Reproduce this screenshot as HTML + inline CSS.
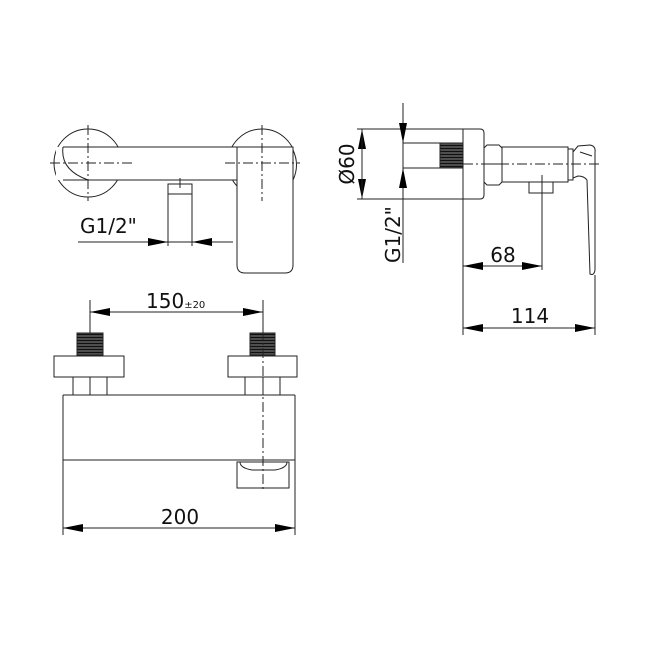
<!DOCTYPE html>
<html><head><style>html,body{margin:0;padding:0;background:#fff}svg{display:block}</style></head>
<body>
<svg width="650" height="650" viewBox="0 0 650 650" xmlns="http://www.w3.org/2000/svg" font-family="DejaVu Sans, sans-serif">
<defs>
<marker id="a" viewBox="0 0 10 4" refX="10" refY="2" markerWidth="20" markerHeight="8" markerUnits="userSpaceOnUse" orient="auto"><path d="M0,0 L10,2 L0,4 z" fill="#000"/></marker>
<pattern id="th" width="4" height="3" patternUnits="userSpaceOnUse"><rect width="4" height="3" fill="#555"/><line x1="0" y1="1.5" x2="4" y2="1.5" stroke="#111" stroke-width="1.2"/></pattern>
</defs>
<g fill="none" stroke="#222" stroke-width="1">
<circle cx="88" cy="163" r="34"/>
<circle cx="262" cy="163" r="34"/>
<rect x="56" y="147" width="240" height="33" fill="#fff" stroke="none"/>
<path d="M63,147 L237,147 M63,180 L237,180 M63,147 Q60,170 88,180"/>
<path d="M237,147 L293,147 L293,265 Q293,273 285,273 L245,273 Q237,273 237,265 Z" fill="#fff"/>
<path d="M293,150 Q300,165 293,180"/>
<line x1="50" y1="163" x2="133" y2="163" stroke-dasharray="10,3,2,3"/>
<line x1="225" y1="163" x2="300" y2="163" stroke-dasharray="10,3,2,3"/>
<line x1="88" y1="125" x2="88" y2="201" stroke-dasharray="10,3,2,3"/>
<line x1="262" y1="125" x2="262" y2="201" stroke-dasharray="10,3,2,3"/>
<rect x="168" y="184" width="24" height="10"/>
<line x1="168" y1="194" x2="168" y2="246"/>
<line x1="192" y1="194" x2="192" y2="246"/>
<line x1="180" y1="178" x2="180" y2="188"/>
<line x1="78" y1="242" x2="233" y2="242"/>
<line x1="145" y1="242" x2="168" y2="242" marker-end="url(#a)"/>
<line x1="214" y1="242" x2="192" y2="242" marker-end="url(#a)"/>

<path d="M357,129 L480,129 Q484,129 484,133 L484,195 Q484,199 480,199 L357,199"/>
<line x1="463" y1="129" x2="463" y2="335"/>
<rect x="440" y="143" width="23" height="25" fill="url(#th)"/>
<line x1="403" y1="143" x2="440" y2="143"/>
<line x1="403" y1="168" x2="440" y2="168"/>
<line x1="403" y1="103" x2="403" y2="263"/>
<line x1="403" y1="103" x2="403" y2="143" marker-end="url(#a)"/>
<line x1="403" y1="208" x2="403" y2="168" marker-end="url(#a)"/>
<line x1="362" y1="146" x2="362" y2="129" marker-end="url(#a)"/>
<line x1="362" y1="182" x2="362" y2="199" marker-end="url(#a)"/>
<line x1="362" y1="129" x2="362" y2="199"/>
<path d="M484,148 L487,145 L499,145 L502,148 L502,182 L499,185 L487,185 L484,182 Z"/>
<line x1="484" y1="164" x2="502" y2="164"/>
<rect x="502" y="147" width="66" height="35"/>
<rect x="568" y="149" width="5" height="31"/>
<path d="M573,152 L578,146 L590,145 Q596,146 595,152 L595,270 Q594,276 590,274 L587,180 Q584,176 578,176 L573,178 Z"/>
<line x1="580" y1="152" x2="592" y2="156"/>
<rect x="529" y="182" width="24" height="11"/>
<line x1="463" y1="164" x2="600" y2="164" stroke-dasharray="10,3,2,3"/>
<line x1="542" y1="175" x2="542" y2="270"/>
<line x1="463" y1="266" x2="542" y2="266"/>
<line x1="485" y1="266" x2="463" y2="266" marker-end="url(#a)"/>
<line x1="520" y1="266" x2="542" y2="266" marker-end="url(#a)"/>
<line x1="595" y1="275" x2="595" y2="335"/>
<line x1="463" y1="328" x2="595" y2="328"/>
<line x1="485" y1="328" x2="463" y2="328" marker-end="url(#a)"/>
<line x1="573" y1="328" x2="595" y2="328" marker-end="url(#a)"/>

<line x1="90" y1="300" x2="90" y2="395"/>
<line x1="263" y1="300" x2="263" y2="330"/>
<line x1="90" y1="312" x2="263" y2="312"/>
<line x1="112" y1="312" x2="90" y2="312" marker-end="url(#a)"/>
<line x1="241" y1="312" x2="263" y2="312" marker-end="url(#a)"/>
<rect x="77" y="333" width="26" height="22" fill="url(#th)"/>
<rect x="250" y="333" width="25" height="22" fill="url(#th)"/>
<rect x="54" y="356" width="70" height="21" fill="#fff"/>
<rect x="228" y="356" width="69" height="21" fill="#fff"/>
<rect x="73" y="377" width="34" height="18"/>
<line x1="90" y1="377" x2="90" y2="395"/>
<rect x="245" y="377" width="35" height="18"/>
<line x1="263" y1="377" x2="263" y2="395"/>
<line x1="63" y1="395" x2="295" y2="395"/>
<line x1="63" y1="395" x2="63" y2="535"/>
<line x1="295" y1="395" x2="295" y2="535"/>
<line x1="63" y1="460" x2="295" y2="460"/>
<rect x="237" y="462" width="52" height="26"/>
<path d="M240,462 Q240,468 252,470 L275,470 Q287,468 287,462"/>
<line x1="263" y1="330" x2="263" y2="492" stroke-dasharray="10,3,2,3"/>
<line x1="63" y1="528" x2="295" y2="528"/>
<line x1="85" y1="528" x2="63" y2="528" marker-end="url(#a)"/>
<line x1="273" y1="528" x2="295" y2="528" marker-end="url(#a)"/>
</g>
<g fill="#111">
<text x="80" y="233" font-size="20">G1/2"</text>
<text transform="translate(354,164) rotate(-90)" text-anchor="middle" font-size="20">Ø60</text>
<text transform="translate(400,263) rotate(-90)" font-size="20">G1/2"</text>
<text x="503" y="262" text-anchor="middle" font-size="20">68</text>
<text x="530" y="323" text-anchor="middle" font-size="20">114</text>
<text x="146" y="308" font-size="20">150<tspan font-size="10">±20</tspan></text>
<text x="180" y="524" text-anchor="middle" font-size="20">200</text>
</g>
</svg>
</body></html>
